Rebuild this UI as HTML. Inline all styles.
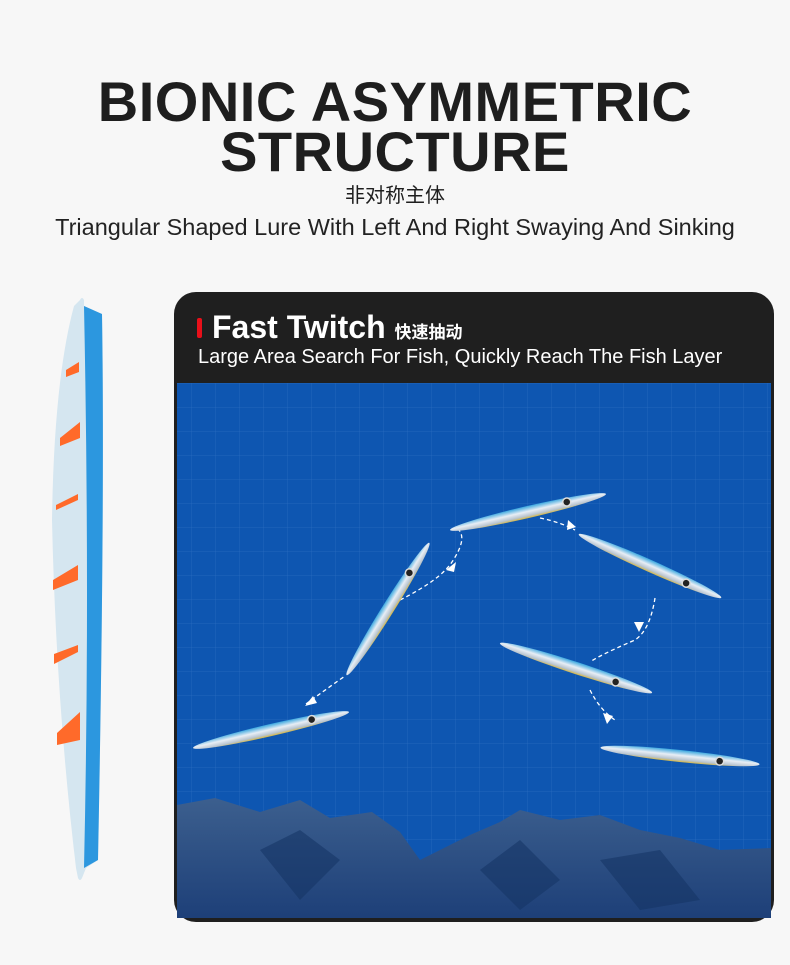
<!DOCTYPE html>
<html><head><meta charset="utf-8"><style>
body{margin:0;width:790px;height:965px;background:#f7f7f7;font-family:"Liberation Sans","Noto Sans CJK SC",sans-serif;position:relative;overflow:hidden}
.t{position:absolute;left:0;width:790px;text-align:center;color:#1e1e1e}
</style></head><body>
<div class="t" style="top:76px;font-size:56px;font-weight:bold;line-height:52px;letter-spacing:0.5px">BIONIC ASYMMETRIC</div>
<div class="t" style="top:126px;font-size:56px;font-weight:bold;line-height:52px;letter-spacing:0.5px">STRUCTURE</div>
<div class="t" style="top:184px;font-size:20px;line-height:24px">非对称主体</div>
<div class="t" style="top:213px;font-size:23.5px;line-height:28px;color:#222">Triangular Shaped Lure With Left And Right Swaying And Sinking</div>

<svg style="position:absolute;left:0;top:0" width="790" height="965">
<defs>
<linearGradient id="fishg" x1="0" y1="0" x2="0" y2="1">
<stop offset="0" stop-color="#3aa8e0"/><stop offset="0.45" stop-color="#e8eef5"/><stop offset="0.8" stop-color="#b8c4d0"/><stop offset="1" stop-color="#d8b840"/></linearGradient>
<linearGradient id="rock" x1="0" y1="0" x2="0" y2="1"><stop offset="0" stop-color="#3c5f8e"/><stop offset="1" stop-color="#1d3f78"/></linearGradient>
<pattern id="grid" width="24" height="24" patternUnits="userSpaceOnUse"><path d="M24 0V24M0 24H24" stroke="#2a6cc0" stroke-width="0.7" fill="none"/></pattern>
<clipPath id="pc"><rect x="177" y="383" width="594" height="535" rx="0"/></clipPath>
</defs>
<path d="M80 300 Q82 296 84 300 L84 306 L102 314 Q105 500 98 860 L86 868 L82 878 Q80 882 78 878 L76 868 Q56 700 52 520 Q54 380 74 306 Z" fill="#d5e6f0"/>
<path d="M84 306 L102 314 Q105 500 98 860 L84 868 Q90 600 84 306Z" fill="#2c97df"/>
<g fill="#ff6a2a">
<path d="M66 370 L79 362 L79 372 L66 377Z"/><path d="M60 438 L80 422 L80 438 L60 446Z"/>
<path d="M56 505 L78 494 L78 500 L56 510Z"/><path d="M53 580 L78 565 L78 580 L53 590Z"/>
<path d="M54 654 L78 645 L78 652 L54 664Z"/><path d="M57 733 L80 712 L80 740 L57 745Z"/>
</g>
<rect x="174" y="292" width="600" height="630" rx="22" fill="#1f1f1f"/>
<g clip-path="url(#pc)">
<rect x="177" y="383" width="594" height="540" fill="#0e56b1"/>
<rect x="177" y="383" width="594" height="540" fill="url(#grid)"/>
<path d="M177 805 L215 798 L260 812 L300 800 L330 818 L372 812 L400 832 L420 860 L440 850 L470 835 L500 822 L520 810 L560 820 L600 815 L640 830 L680 838 L720 850 L771 848 L771 920 L177 920Z" fill="url(#rock)"/>
<path d="M260 850 L300 830 L340 860 L300 900 Z M480 870 L520 840 L560 880 L520 910Z M600 860 L660 850 L700 900 L640 910Z" fill="#163566" opacity="0.6"/>
</g>
<g fill="none" stroke="#fff" stroke-width="1.3" stroke-dasharray="4 3">
<path d="M306 704 Q325 690 345 676"/><path d="M400 600 Q440 580 452 562 Q470 535 455 527"/>
<path d="M540 518 Q560 522 575 530"/><path d="M655 598 Q650 630 635 640 Q600 655 590 662"/>
<path d="M590 690 Q600 710 615 720"/>
</g>
<g fill="#fff"><path d="M305 706 l8 -10 l4 7z"/><path d="M446 570 l10 -8 l-2 10z"/><path d="M568 520 l8 7 l-9 3z"/><path d="M634 622 l10 0 l-5 10z"/><path d="M603 713 l10 3 l-6 8z"/></g>
<g>
<g transform="translate(271,730) rotate(-13)"><ellipse rx="80" ry="6" fill="url(#fishg)"/><circle cx="42" cy="-1" r="4" fill="#222" stroke="#ddd" stroke-width="1.5"/></g>
<g transform="translate(388,609) rotate(-58)"><ellipse rx="78" ry="6" fill="url(#fishg)"/><circle cx="42" cy="-1" r="4" fill="#222" stroke="#ddd" stroke-width="1.5"/></g>
<g transform="translate(528,512) rotate(-13)"><ellipse rx="80" ry="6" fill="url(#fishg)"/><circle cx="40" cy="-1" r="4" fill="#222" stroke="#ddd" stroke-width="1.5"/></g>
<g transform="translate(650,566) rotate(24)"><ellipse rx="78" ry="6" fill="url(#fishg)"/><circle cx="40" cy="1" r="4" fill="#222" stroke="#ddd" stroke-width="1.5"/></g>
<g transform="translate(576,668) rotate(18)"><ellipse rx="80" ry="6" fill="url(#fishg)"/><circle cx="42" cy="1" r="4" fill="#222" stroke="#ddd" stroke-width="1.5"/></g>
<g transform="translate(680,756) rotate(6)"><ellipse rx="80" ry="6" fill="url(#fishg)"/><circle cx="40" cy="1" r="4" fill="#222" stroke="#ddd" stroke-width="1.5"/></g>
</g>
<rect x="197" y="318" width="5" height="20" rx="2" fill="#e8101a"/>
</svg>
<div style="position:absolute;left:212px;top:308px;color:#fff;font-weight:bold;font-size:32px;line-height:38px">Fast Twitch <span style="font-size:17px">快速抽动</span></div>
<div style="position:absolute;left:198px;top:345px;color:#fff;font-size:20px;line-height:24px">Large Area Search For Fish, Quickly Reach The Fish Layer</div>
</body></html>
